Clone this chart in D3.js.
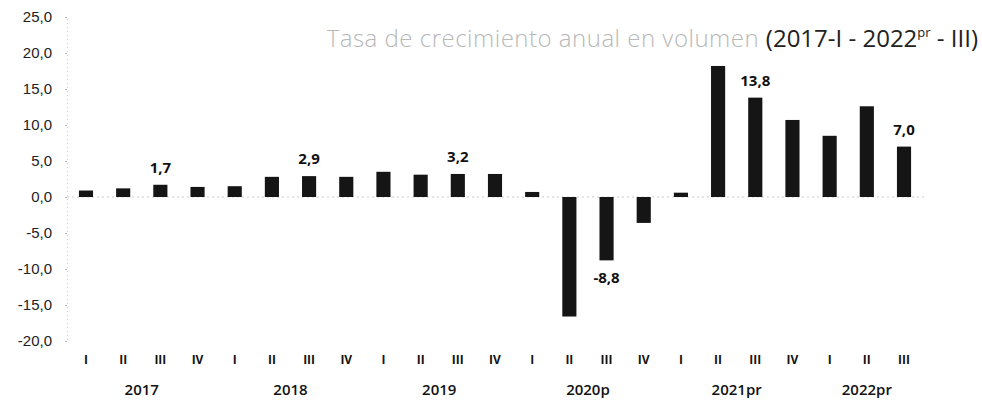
<!DOCTYPE html>
<html>
<head>
<meta charset="utf-8">
<script src="https://cdn.jsdelivr.net/npm/d3@7"></script>
<style>
  body { margin: 0; background: #fff; }
  svg { display: block; font-family: "Open Sans", "Noto Sans", sans-serif; }
</style>
</head>
<body>
<div id="chart"></div>
<script>
// Chart data: quarterly GDP annual growth, Colombia 2017-I .. 2022-III
const quarters = ["I","II","III","IV","I","II","III","IV","I","II","III","IV",
                  "I","II","III","IV","I","II","III","IV","I","II","III"];
const years = ["2017","2018","2019","2020p","2021pr","2022pr"];
const yearIndex = [0,0,0,0,1,1,1,1,2,2,2,2,3,3,3,3,4,4,4,4,5,5,5];
const growth = [0.9, 1.2, 1.7, 1.4, 1.5, 2.8, 2.9, 2.8, 3.5, 3.1, 3.2, 3.2,
                0.7, -16.6, -8.8, -3.6, 0.6, 18.2, 13.8, 10.7, 8.5, 12.6, 7.0];
const labelled = [2, 6, 10, 14, 18, 22]; // bars that carry a value label
const yTicks = [25, 20, 15, 10, 5, 0, -5, -10, -15, -20];

const width = 982, height = 402;

const svg = d3.select("#chart").append("svg")
    .attr("width", width)
    .attr("height", height);

const x = d3.scaleBand()
    .domain(d3.range(growth.length))
    .range([67.4, 922.6])
    .paddingInner(0.62)
    .paddingOuter(0.31);

const y = d3.scaleLinear()
    .domain([-20, 25])
    .range([341, 17]);

const fmt = v => d3.format(".1f")(v).replace(".", ",").replace("−", "-");

// ─── Y AXIS ────────────────────────────────────────────
const yAxis = svg.append("g")
    .attr("transform", "translate(67,0)")
    .call(d3.axisLeft(y).tickValues(yTicks).tickSize(2).tickPadding(13).tickFormat(fmt));
yAxis.select(".domain")
    .attr("stroke", "#ccc")
    .attr("stroke-dasharray", "1,3");
yAxis.selectAll(".tick line").attr("stroke", "#bbb");
yAxis.selectAll(".tick text")
    .attr("fill", "#222")
    .style("font-size", "15px");

// zero line
svg.append("line")
    .attr("x1", 67).attr("x2", 925)
    .attr("y1", y(0)).attr("y2", y(0))
    .attr("stroke", "#ccc")
    .attr("stroke-dasharray", "2,3");

// ─── BARS ──────────────────────────────────────────────
svg.append("g").selectAll("rect")
    .data(growth)
    .join("rect")
    .attr("x", (d, i) => x(i))
    .attr("width", x.bandwidth())
    .attr("y", d => y(Math.max(0, d)))
    .attr("height", d => Math.abs(y(d) - y(0)))
    .attr("fill", "#151515");

// value labels
svg.append("g").selectAll("text")
    .data(labelled)
    .join("text")
    .attr("x", i => x(i) + x.bandwidth() / 2)
    .attr("y", i => growth[i] >= 0 ? y(growth[i]) - 12 : y(growth[i]) + 23)
    .attr("text-anchor", "middle")
    .attr("fill", "#111")
    .style("font-size", "15px")
    .style("font-weight", "700")
    .text(i => fmt(growth[i]));

// ─── X LABELS ──────────────────────────────────────────
svg.append("g").selectAll("text")
    .data(quarters)
    .join("text")
    .attr("x", (d, i) => x(i) + x.bandwidth() / 2)
    .attr("y", 364)
    .attr("text-anchor", "middle")
    .attr("fill", "#111")
    .style("font-size", "12px")
    .style("font-weight", "700")
    .text(d => d);

svg.append("g").selectAll("text")
    .data(years)
    .join("text")
    .attr("x", (d, yi) => {
        const idx = yearIndex.map((v, i) => v === yi ? i : -1).filter(i => i >= 0);
        return d3.mean(idx, i => x(i) + x.bandwidth() / 2);
    })
    .attr("y", 395)
    .attr("text-anchor", "middle")
    .attr("fill", "#111")
    .style("font-size", "15px")
    .style("font-weight", "600")
    .text(d => d);

// ─── TITLE ─────────────────────────────────────────────
const title = svg.append("text")
    .attr("x", 978)
    .attr("y", 47)
    .attr("text-anchor", "end")
    .style("font-size", "24px");
title.append("tspan").attr("fill", "#b8b8b8").style("font-weight", "300")
    .style("letter-spacing", "0.5px")
    .text("Tasa de crecimiento anual en volumen ");
title.append("tspan").attr("fill", "#222").text("(2017-I - 2022");
title.append("tspan").attr("fill", "#222").attr("dy", -10).style("font-size", "13px").text("pr");
title.append("tspan").attr("fill", "#222").attr("dy", 10).text(" - III)");
</script>
</body>
</html>
